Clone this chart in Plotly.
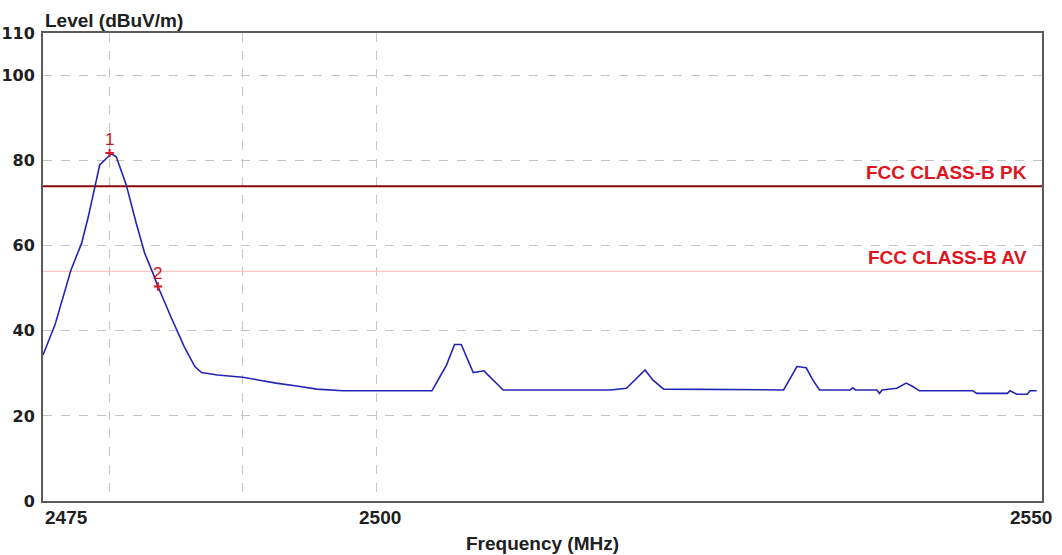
import plotly.graph_objects as go

# Measured radiated emission sweep
freq_mhz = [2475.0, 2475.9, 2477.1, 2477.9, 2478.4, 2478.9, 2479.26, 2479.75, 2480.13,
            2480.5, 2480.88, 2481.25, 2482.0, 2482.64, 2483.26, 2483.63, 2484.6, 2485.6,
            2486.4, 2486.9, 2487.5, 2488.1, 2490.0, 2492.5, 2494.3, 2495.55, 2497.5,
            2504.2, 2504.8, 2505.3, 2505.9, 2506.4, 2507.3, 2508.1, 2509.55, 2517.6,
            2518.8, 2519.3, 2520.2, 2520.8, 2521.6, 2530.6, 2531.0, 2531.6, 2532.3,
            2532.8, 2533.3, 2535.6, 2535.8, 2536.0, 2537.6, 2537.8, 2538.0, 2539.1,
            2539.8, 2540.3, 2540.8, 2544.8, 2545.1, 2547.4, 2547.6, 2548.1, 2548.9,
            2549.1, 2549.6]
level_dbuv = [34.3, 41.4, 54.3, 60.6, 66.8, 74.3, 79.0, 80.5, 81.6,
              80.9, 77.8, 74.3, 65.3, 58.2, 53.5, 50.4, 43.3, 36.3,
              31.6, 30.2, 29.9, 29.6, 29.1, 27.7, 26.9, 26.3, 25.9,
              25.9, 29.2, 32.0, 36.8, 36.8, 30.2, 30.6, 26.1, 26.1,
              26.5, 28.0, 30.8, 28.4, 26.3, 26.1, 28.4, 31.6, 31.3,
              28.4, 26.1, 26.1, 26.6, 26.1, 26.1, 25.3, 26.1, 26.5,
              27.7, 26.9, 25.9, 25.9, 25.3, 25.3, 25.9, 25.1, 25.1,
              25.9, 25.9]

# Markers
marker_freq = [2480.0, 2483.63]
marker_level = [81.8, 50.4]
marker_names = ["1", "2"]

# Limit lines
limit_names = ["FCC CLASS-B PK", "FCC CLASS-B AV"]
limit_levels = [74, 54]
limit_colors = ["#8a0a0a", "#f2b8b8"]
limit_widths = [2, 1]

# Axis ticks
y_ticks = [0, 20, 40, 60, 80, 100, 110]
x_grid = [2480, 2490, 2500]
x_labels = [2475, 2500, 2550]

fig = go.Figure()

for name, lvl, col, w in zip(limit_names, limit_levels, limit_colors, limit_widths):
    fig.add_trace(go.Scatter(x=[2475, 2550], y=[lvl, lvl], mode="lines",
                             line=dict(color=col, width=w), hoverinfo="skip"))
    fig.add_annotation(x=2549.0, y=lvl, text="<b>" + name + "</b>", showarrow=False,
                       xanchor="right", yanchor="bottom", yshift=1,
                       font=dict(family="Liberation Sans", size=19, color="#e0141e"))

fig.add_trace(go.Scatter(x=freq_mhz, y=level_dbuv, mode="lines",
                         line=dict(color="#2424b4", width=1.6)))

fig.add_trace(go.Scatter(x=marker_freq, y=marker_level, mode="markers",
                         marker=dict(color="#e0141e", size=6, symbol="cross-thin",
                                     line=dict(color="#e0141e", width=2))))
for mx, my, mn in zip(marker_freq, marker_level, marker_names):
    fig.add_annotation(x=mx, y=my, text=mn, showarrow=False, yanchor="bottom",
                       yshift=2, font=dict(family="Liberation Sans", size=17, color="#d0101a"))

# X tick labels
anchors = ["left", "center", "right"]
shifts = [0, 4, 12]
for xv, anc, sh in zip(x_labels, anchors, shifts):
    fig.add_annotation(x=xv, y=0, yref="paper", text="<b>" + str(xv) + "</b>",
                       showarrow=False, xanchor=anc, yanchor="top", xshift=sh, yshift=-4,
                       font=dict(family="Liberation Sans", size=19, color="#202020"))

fig.add_annotation(x=0, y=1, xref="paper", yref="paper", text="<b>Level (dBuV/m)</b>",
                   showarrow=False, xanchor="left", yanchor="bottom", yshift=0,
                   font=dict(family="Liberation Sans", size=19, color="#202020"))
fig.add_annotation(x=0.5, y=0, xref="paper", yref="paper", text="<b>Frequency (MHz)</b>",
                   showarrow=False, xanchor="center", yanchor="top", yshift=-30,
                   font=dict(family="Liberation Sans", size=19, color="#202020"))

fig.update_layout(
    width=1062, height=555,
    margin=dict(l=43, r=20, t=33, b=54),
    paper_bgcolor="white", plot_bgcolor="white",
    showlegend=False,
    xaxis=dict(range=[2475, 2550], tickvals=x_grid, showticklabels=False,
               showgrid=True, gridcolor="#c4c4c4", griddash="dash", gridwidth=1,
               showline=True, linecolor="#5a5a5a", linewidth=2, mirror=True,
               zeroline=False, ticks="", automargin=False),
    yaxis=dict(range=[0, 110], tickvals=y_ticks, ticktext=[str(v) for v in y_ticks],
               showgrid=True, gridcolor="#c4c4c4", griddash="dash", gridwidth=1,
               showline=True, linecolor="#5a5a5a", linewidth=2, mirror=True,
               zeroline=False, ticks="", ticklabelstandoff=3, automargin=False,
               tickfont=dict(family="DejaVu Sans", size=16, color="#202020",
                             weight="bold")),
)

fig.write_html("out.html")
